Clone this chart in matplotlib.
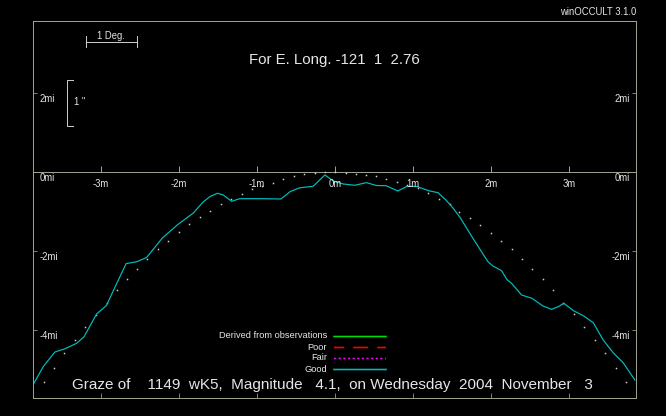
import matplotlib
matplotlib.use('Agg')
import matplotlib.pyplot as plt
from matplotlib.lines import Line2D

# observed limb profile (minutes of arc along track, miles from track)
profile_x = [-3.868, -3.740, -3.590, -3.462, -3.312, -3.218, -3.055, -2.929, -2.788, -2.676,
             -2.542, -2.414, -2.212, -2.013, -1.814, -1.688, -1.603, -1.506, -1.432, -1.324,
             -1.218, -0.962, -0.692, -0.571, -0.449, -0.278, -0.128, -0.022, 0.106, 0.256,
             0.404, 0.532, 0.660, 0.805, 0.923, 1.051, 1.205, 1.321, 1.423, 1.517,
             1.609, 1.769, 1.962, 2.026, 2.137, 2.205, 2.265, 2.394, 2.526, 2.667,
             2.778, 2.863, 2.936, 3.055, 3.192, 3.312, 3.440, 3.568, 3.696, 3.846]
profile_y = [-5.380, -4.929, -4.557, -4.476, -4.337, -4.177, -3.595, -3.380, -2.785, -2.319,
             -2.273, -2.165, -1.671, -1.329, -1.038, -0.759, -0.625, -0.539, -0.582, -0.742,
             -0.676, -0.676, -0.684, -0.494, -0.400, -0.362, -0.076, -0.228, -0.304, -0.337,
             -0.271, -0.342, -0.349, -0.481, -0.367, -0.367, -0.476, -0.524, -0.709, -0.919,
             -1.165, -1.678, -2.271, -2.380, -2.499, -2.722, -2.818, -3.114, -3.197, -3.392,
             -3.476, -3.410, -3.324, -3.506, -3.646, -3.815, -4.253, -4.575, -4.828, -5.266]

# mean limb (dotted)
mean_x = [-3.727, -3.599, -3.471, -3.333, -3.205, -3.064, -2.927, -2.799, -2.671, -2.538,
          -2.404, -2.265, -2.137, -2.000, -1.865, -1.731, -1.603, -1.465, -1.333, -1.196,
          -1.060, -0.929, -0.799, -0.663, -0.526, -0.394, -0.256, -0.124, 0.006, 0.137,
          0.265, 0.401, 0.529, 0.658, 0.795, 0.929, 1.064, 1.192, 1.333, 1.471,
          1.596, 1.731, 1.859, 1.996, 2.135, 2.269, 2.397, 2.526, 2.664, 2.799,
          2.927, 3.064, 3.192, 3.333, 3.468, 3.599, 3.727]
mean_y = [-5.324, -4.954, -4.590, -4.253, -3.916, -3.620, -3.324, -2.987, -2.716, -2.463,
          -2.203, -1.957, -1.739, -1.532, -1.329, -1.152, -0.980, -0.818, -0.684, -0.557,
          -0.423, -0.354, -0.271, -0.177, -0.101, -0.051, -0.033, -0.013, -0.008, -0.018,
          -0.051, -0.068, -0.101, -0.177, -0.261, -0.329, -0.413, -0.539, -0.691, -0.818,
          -1.005, -1.172, -1.342, -1.537, -1.747, -1.962, -2.203, -2.461, -2.716, -2.987,
          -3.309, -3.595, -3.916, -4.253, -4.590, -4.954, -5.324]

minute_ticks = [-3, -2, -1, 0, 1, 2, 3]
minute_labels = ['-3m', '-2m', '-1m', '0m', '1m', '2m', '3m']
mile_ticks = [2, 0, -2, -4]
mile_labels = ['2mi', '0mi', '-2mi', '-4mi']

legend_labels = ['Derived from observations', 'Poor', 'Fair', 'Good']
legend_colors = ['#00e000', '#ff0000', '#ff00ff', '#00bcbc']
legend_styles = ['-', (3, (9.4, 5.6)), (0, (1.3, 1.6)), '-']

title = 'For E. Long. -121  1  2.76'
caption = 'Graze of    1149  wK5,  Magnitude   4.1,  on Wednesday  2004  November   3'

W, H = 666, 416
frame = '#a0a08a'
txt = '#e6e6e6'
small = ['Liberation Sans Narrow', 'Liberation Sans', 'DejaVu Sans']
plt.rcParams['font.family'] = ['Liberation Sans', 'DejaVu Sans']


def fx(x):
    return x / W


def fy(y):
    return 1 - y / H


fig = plt.figure(figsize=(W / 72, H / 72), dpi=72, facecolor='black')
ax = fig.add_axes([fx(33), fy(398), 603 / W, 377 / H])
ax.set_facecolor('black')
for s in ax.spines.values():
    s.set_color(frame)
    s.set_linewidth(1)
ax.set_xlim(-3.87, 3.86)
ax.set_ylim(-5.72, 3.82)

ax.set_xticks(minute_ticks)
ax.set_yticks(mile_ticks)
ax.tick_params(axis='x', direction='in', length=5, color=frame, labelbottom=False)
ax.tick_params(axis='y', direction='in', length=4, color=frame, left=True, right=True,
               labelleft=False)

# zero line with minute ticks
ax.axhline(0, color=frame, lw=1)
ax.vlines(minute_ticks, 0, 0.15, color=frame, lw=1)
for v, lab in zip(minute_ticks, minute_labels):
    ax.annotate(lab, (v, 0), xytext=(0, -7), textcoords='offset points',
                ha='center', va='top', color=txt, fontsize=9.5, family=small)
for v, lab in zip(mile_ticks, mile_labels):
    ax.annotate(lab, (0, v), xycoords=ax.get_yaxis_transform(), xytext=(7, -1),
                textcoords='offset points', ha='left', va='top', color=txt, fontsize=9.5,
                family=small)
    ax.annotate(lab, (1, v), xycoords=ax.get_yaxis_transform(), xytext=(-6, -1),
                textcoords='offset points', ha='right', va='top', color=txt, fontsize=9.5,
                family=small)

ax.plot(mean_x, mean_y, linestyle='none', marker='s', markersize=1.5, color='#d0d0d0',
        markeredgewidth=0)
ax.plot(profile_x, profile_y, color='#00bcbc', lw=1.2)

# scale bars
bar = dict(color='#c8c8c8', lw=1, transform=fig.transFigure)
fig.add_artist(Line2D([fx(86), fx(137)], [fy(42), fy(42)], **bar))
fig.add_artist(Line2D([fx(86), fx(86)], [fy(36), fy(47)], **bar))
fig.add_artist(Line2D([fx(137), fx(137)], [fy(36), fy(47)], **bar))
fig.text(fx(111), fy(36), '1 Deg.', ha='center', va='center', color=txt, fontsize=9.5,
         family=small)
fig.add_artist(Line2D([fx(73), fx(67), fx(67), fx(73)], [fy(80), fy(80), fy(126), fy(126)],
                      **bar))
fig.text(fx(74), fy(102), "1 ''", ha='left', va='center', color=txt, fontsize=9.5,
         family=small)

fig.text(fx(636), fy(12), 'winOCCULT 3.1.0', ha='right', va='center', color=txt,
         fontsize=9.5, family=small)
fig.text(fx(334), fy(60), title, ha='center', va='center', color=txt, fontsize=15)
fig.text(fx(72), fy(385), caption, ha='left', va='center', color=txt, fontsize=15.3)

# legend
for i, (lab, c, ls) in enumerate(zip(legend_labels, legend_colors, legend_styles)):
    y = 336 + 11 * i
    fig.text(fx(327), fy(y), lab, ha='right', va='center', color=txt, fontsize=9.2,
             family=small)
    fig.add_artist(Line2D([fx(334), fx(386)], [fy(y + 0.5), fy(y + 0.5)], color=c, lw=1.6,
                          linestyle=ls, snap=False, transform=fig.transFigure))

fig.savefig('out.png', dpi=72, facecolor='black')
